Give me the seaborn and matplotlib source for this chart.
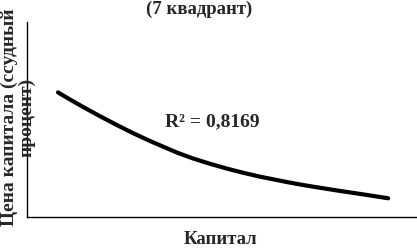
import matplotlib
matplotlib.use('Agg')
import matplotlib.pyplot as plt
import pandas as pd
import seaborn as sns

# точки линии тренда (условные единицы)
kapital = [7.95, 10.3, 14.4, 18.7, 23.1, 27.2, 31.5, 38.5, 42.6, 46.9,
           51.3, 55.4, 59.7, 66.7, 70.8, 75.1, 79.5, 86.2, 92.6]
cena = [63.9, 61.1, 56.4, 51.7, 47.1, 43.0, 39.0, 33.0, 30.0, 27.3,
        24.8, 22.7, 20.7, 17.9, 16.4, 15.0, 13.6, 11.6, 9.6]

title_text = '(7 квадрант)'
xlabel_text = 'Капитал'
ylabel_text = 'Цена капитала (ссудный\nпроцент)'
r2_text = 'R² = 0,8169'

sns.set_style('white')
plt.rcParams['font.family'] = ['Liberation Serif', 'DejaVu Serif']
plt.rcParams['font.weight'] = 'bold'

df = pd.DataFrame({'x': kapital, 'y': cena})

fig = plt.figure(figsize=(4.17, 2.48), dpi=100)
ax = fig.add_axes([27 / 417, 31 / 248, 390 / 417, 195 / 248])

sns.lineplot(data=df, x='x', y='y', ax=ax, color='black', linewidth=3.0)
ax.lines[0].set_solid_joinstyle('round')
ax.lines[0].set_solid_capstyle('round')

ax.set_xlim(0, 100)
ax.set_ylim(0, 100)
ax.set_xticks([])
ax.set_yticks([])
ax.set_xlabel('')
ax.set_ylabel('')
for s in ['top', 'right']:
    ax.spines[s].set_visible(False)
for s in ['left', 'bottom']:
    ax.spines[s].set_color('black')
    ax.spines[s].set_linewidth(1.0)

ax.text(35.4, 48.7, r2_text, fontsize=14, fontweight='bold', va='center', ha='left')

fig.text(199 / 417, 1 - 9 / 248, title_text, fontsize=13.5, fontweight='bold', ha='center', va='center')
fig.text(221 / 417, 1 - 240 / 248, xlabel_text, fontsize=13.5, fontweight='bold', ha='center', va='center')
fig.text(18 / 417, 1 - 117 / 248, ylabel_text, fontsize=14, fontweight='bold', ha='center', va='center',
         rotation=90, linespacing=1.0)

fig.savefig('out.png', dpi=100)
